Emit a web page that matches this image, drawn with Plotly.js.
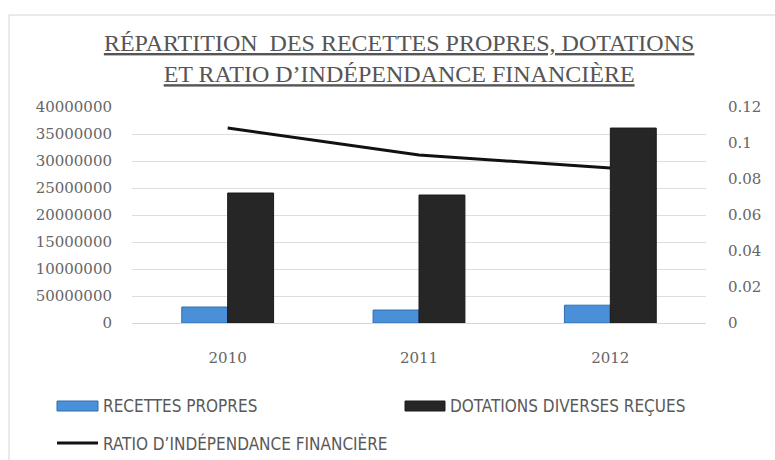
<!DOCTYPE html>
<html>
<head>
<meta charset="utf-8">
<script src="https://cdn.plot.ly/plotly-3.0.1.min.js"></script>
<style>
  html, body { margin: 0; padding: 0; background: #ffffff; }
  #chart { width: 775px; height: 460px; }
</style>
</head>
<body>
<div id="chart"></div>
<script>
// ---- data ----
var years = ['2010', '2011', '2012'];
var recettesPropres = [2960000, 2400000, 3300000];
var dotationsRecues = [24070000, 23700000, 36100000];
var ratioIndependance = [0.1083, 0.0933, 0.0861];

var leftTickVals = [0, 5000000, 10000000, 15000000, 20000000, 25000000, 30000000, 35000000, 40000000];
var leftTickText = ['0', '50000000', '10000000', '15000000', '20000000', '25000000', '30000000', '35000000', '40000000'];
var rightTickVals = [0, 0.02, 0.04, 0.06, 0.08, 0.1, 0.12];
var rightTickText = ['0', '0.02', '0.04', '0.06', '0.08', '0.1', '0.12'];

var seriesNames = ['RECETTES PROPRES', 'DOTATIONS DIVERSES REÇUES', 'RATIO D\u2019INDÉPENDANCE FINANCIÈRE'];
var titleText = '<u>RÉPARTITION  DES RECETTES PROPRES, DOTATIONS</u><br><u>ET RATIO D\u2019INDÉPENDANCE FINANCIÈRE</u>';

// ---- styling ----
var textGray = '#595959';
var tickFont = { family: 'DejaVu Serif', size: 15, color: '#666666' };
var legendFont = { family: 'Liberation Sans Narrow, DejaVu Sans Condensed, Liberation Sans', size: 17, color: textGray };

var traces = [
  {
    type: 'bar', name: seriesNames[0], x: years, y: recettesPropres,
    marker: { color: '#4a90d9', line: { color: '#2f6fb0', width: 1 } },
    showlegend: false
  },
  {
    type: 'bar', name: seriesNames[1], x: years, y: dotationsRecues,
    marker: { color: '#262626', line: { color: '#1a1a1a', width: 1 } },
    showlegend: false
  },
  {
    type: 'scatter', mode: 'lines', name: seriesNames[2], x: years, y: ratioIndependance,
    yaxis: 'y2', line: { color: '#111111', width: 3 },
    showlegend: false
  }
];

// plot area in pixels: x 132..706, y 107..323
var L = 132, R = 706, T = 107, B = 323;
function px(x) { return (x - L) / (R - L); }
function py(y) { return (B - y) / (B - T); }

var layout = {
  width: 775, height: 460,
  margin: { l: L, r: 775 - R, t: T, b: 460 - B, pad: 0 },
  paper_bgcolor: '#ffffff', plot_bgcolor: '#ffffff',
  barmode: 'group', bargap: 0.52, bargroupgap: 0,
  title: {
    text: titleText,
    font: { family: 'Liberation Serif', size: 24, color: '#555555' },
    x: 0.515, xanchor: 'center',
    y: 1 - 51 / 460, yanchor: 'top', yref: 'container'
  },
  xaxis: {
    type: 'category', showgrid: false, zeroline: false, showline: false,
    ticks: 'outside', ticklen: 21, tickcolor: 'rgba(0,0,0,0)',
    tickfont: tickFont
  },
  yaxis: {
    range: [0, 40000000], tickvals: leftTickVals, ticktext: leftTickText,
    showgrid: true, gridcolor: '#dedede', gridwidth: 1,
    zeroline: true, zerolinecolor: '#d6d6d6', zerolinewidth: 1, showline: false,
    ticks: 'outside', ticklen: 16, tickcolor: 'rgba(0,0,0,0)',
    tickfont: tickFont
  },
  yaxis2: {
    overlaying: 'y', side: 'right', range: [0, 0.12],
    tickvals: rightTickVals, ticktext: rightTickText,
    showgrid: false, zeroline: false, showline: false,
    ticks: 'outside', ticklen: 18, tickcolor: 'rgba(0,0,0,0)',
    tickfont: tickFont
  },
  shapes: [
    // outer chart frame
    { type: 'rect', xref: 'paper', yref: 'paper', x0: px(9), x1: px(800), y0: py(490), y1: py(15),
      line: { color: '#d4d4d4', width: 1 }, fillcolor: 'rgba(0,0,0,0)', layer: 'below' },
    // legend swatches
    { type: 'rect', xref: 'paper', yref: 'paper', x0: px(57), x1: px(98), y0: py(411), y1: py(401),
      fillcolor: '#4a90d9', line: { color: '#2f6fb0', width: 1 } },
    { type: 'rect', xref: 'paper', yref: 'paper', x0: px(405), x1: px(445), y0: py(411), y1: py(401),
      fillcolor: '#262626', line: { color: '#1a1a1a', width: 1 } },
    { type: 'line', xref: 'paper', yref: 'paper', x0: px(57), x1: px(98), y0: py(443), y1: py(443),
      line: { color: '#111111', width: 3 } }
  ],
  annotations: [
    { xref: 'paper', yref: 'paper', x: px(101), y: py(406), xanchor: 'left', yanchor: 'middle',
      text: seriesNames[0], showarrow: false, font: legendFont },
    { xref: 'paper', yref: 'paper', x: px(448), y: py(406), xanchor: 'left', yanchor: 'middle',
      text: seriesNames[1], showarrow: false, font: legendFont },
    { xref: 'paper', yref: 'paper', x: px(101), y: py(443), xanchor: 'left', yanchor: 'middle',
      text: seriesNames[2], showarrow: false, font: legendFont }
  ]
};

Plotly.newPlot('chart', traces, layout, { displayModeBar: false, staticPlot: true });
</script>
</body>
</html>
